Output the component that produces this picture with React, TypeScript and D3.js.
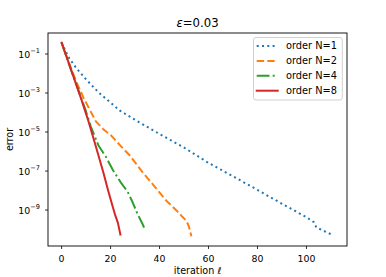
import React from 'react';
import * as d3 from 'd3';

// ---- data ----
const seriesLabels = ['order N=1', 'order N=2', 'order N=4', 'order N=8'];

const iterN1 = [0, 3, 6, 10, 15, 20, 24, 30, 40, 50, 60, 70, 80, 90, 100, 103, 104, 111];
const errN1 = [3.8e-1, 6.3e-2, 1.9e-2, 5.0e-3, 1.1e-3, 3.2e-4, 1.2e-4, 4.2e-5, 7.9e-6, 1.6e-6, 2.6e-7, 5.4e-8, 1.07e-8, 2.1e-9, 4.3e-10, 2.4e-10, 1.3e-10, 5.0e-11];

const iterN2 = [0, 3, 6, 9, 12, 14, 17, 20, 24, 28, 30, 33, 38, 43, 47, 49, 51, 52, 53];
const errN2 = [3.8e-1, 3.5e-2, 3.8e-3, 5.6e-4, 1.05e-4, 3.5e-5, 1.4e-5, 7.1e-6, 2.0e-6, 6.0e-7, 2.8e-7, 8.9e-8, 1.6e-8, 2.8e-9, 9.3e-10, 5.0e-10, 2.8e-10, 1.4e-10, 4.5e-11];

const iterN4 = [0, 4, 8, 10, 12, 15, 18, 21, 24, 27, 29, 31, 33, 34];
const errN4 = [3.8e-1, 1.35e-2, 5.6e-4, 1.1e-4, 1.8e-5, 2.1e-6, 5.6e-7, 1.1e-7, 2.8e-8, 8.5e-9, 2.5e-9, 6.3e-10, 2.0e-10, 1.0e-10];

const iterN8 = [0, 4, 8, 11, 14, 17, 19, 21, 22, 23, 24];
const errN8 = [3.8e-1, 1.4e-2, 5.0e-4, 3.5e-5, 1.8e-6, 8.9e-8, 1.0e-8, 1.3e-9, 5.0e-10, 2.2e-10, 5.6e-11];

const xTickValues = [0, 20, 40, 60, 80, 100];
const yTickExponents = [-1, -3, -5, -7, -9];

const titleMain = 'ε';
const titleRest = '=0.03';
const xLabelText = 'iteration ';
const xLabelSymbol = 'ℓ';
const yLabelText = 'error';

// ---- styling ----
const W = 386;
const H = 277;
const left = 48;
const right = 347;
const top = 33;
const bottom = 246;
const font = 'DejaVu Sans, sans-serif';
const colors = ['#1f77b4', '#ff7f0e', '#2ca02c', '#d62728'];
const dashes = ['2,3.3', '7.4,3.2', '12.8,3.2,2,3.2', 'none'];

export default function App() {
  const series = [
    { label: seriesLabels[0], it: iterN1, err: errN1 },
    { label: seriesLabels[1], it: iterN2, err: errN2 },
    { label: seriesLabels[2], it: iterN4, err: errN4 },
    { label: seriesLabels[3], it: iterN8, err: errN8 },
  ];
  const allIt = series.flatMap((s) => s.it);
  const allLog = series.flatMap((s) => s.err.map((e) => Math.log10(e)));
  const [xmin, xmax] = d3.extent(allIt) as [number, number];
  const xm = (xmax - xmin) * 0.05;
  const [lmin, lmax] = d3.extent(allLog) as [number, number];
  const lm = (lmax - lmin) * 0.05;

  const x = d3.scaleLinear().domain([xmin - xm, xmax + xm]).range([left, right]);
  const y = d3.scaleLog().domain([Math.pow(10, lmin - lm), Math.pow(10, lmax + lm)]).range([bottom, top]);

  const line = d3
    .line<[number, number]>()
    .x((d) => x(d[0]))
    .y((d) => y(d[1]));

  const legendX0 = 253.5;
  const legendY0 = 37.5;
  const rowH = 14.9;

  return (
    <svg
      width={W}
      height={H}
      viewBox={`0 0 ${W} ${H}`}
      style={{ position: 'fixed', left: 0, top: 0, background: '#fff' }}
      fontFamily={font}
    >
      <rect x={0} y={0} width={W} height={H} fill="#fff" />
      <defs>
        <clipPath id="plotclip">
          <rect x={left} y={top} width={right - left} height={bottom - top} />
        </clipPath>
      </defs>

      {/* title */}
      <text x={(left + right) / 2} y={27} textAnchor="middle" fontSize={11.7} fill="#000">
        <tspan fontStyle="italic">{titleMain}</tspan>
        <tspan>{titleRest}</tspan>
      </text>

      {/* lines */}
      <g clipPath="url(#plotclip)">
        {series.map((s, i) => (
          <path
            key={s.label}
            d={line(s.it.map((v, k) => [v, s.err[k]] as [number, number])) || ''}
            fill="none"
            stroke={colors[i]}
            strokeWidth={2}
            strokeDasharray={dashes[i]}
            strokeLinecap={i === 3 ? 'square' : 'butt'}
            strokeLinejoin="round"
          />
        ))}
      </g>

      {/* frame */}
      <rect x={left} y={top} width={right - left} height={bottom - top} fill="none" stroke="#000" strokeWidth={0.9} />

      {/* x ticks */}
      {xTickValues.map((t) => (
        <g key={'x' + t}>
          <line x1={x(t)} x2={x(t)} y1={bottom} y2={bottom + 3} stroke="#000" strokeWidth={0.8} />
          <text x={x(t)} y={261.5} textAnchor="middle" fontSize={9.4} fill="#000">
            {t}
          </text>
        </g>
      ))}

      {/* y ticks */}
      {yTickExponents.map((e) => {
        const yy = y(Math.pow(10, e));
        return (
          <g key={'y' + e}>
            <line x1={left - 3} x2={left} y1={yy} y2={yy} stroke="#000" strokeWidth={0.8} />
            <text x={40} y={yy + 4} textAnchor="end" fontSize={9.4} fill="#000">
              <tspan>10</tspan>
              <tspan dy={-5.2} fontSize={6.6}>
                {'\u2212' + Math.abs(e)}
              </tspan>
            </text>
          </g>
        );
      })}

      {/* axis labels */}
      <text x={(left + right) / 2} y={274} textAnchor="middle" fontSize={9.6} fill="#000">
        <tspan>{xLabelText}</tspan>
        <tspan fontStyle="italic">{xLabelSymbol}</tspan>
      </text>
      <text
        transform={`translate(12.5, ${(top + bottom) / 2}) rotate(-90)`}
        textAnchor="middle"
        fontSize={9.6}
        fill="#000"
      >
        {yLabelText}
      </text>

      {/* legend */}
      <rect
        x={legendX0}
        y={legendY0}
        width={342.3 - legendX0}
        height={100 - legendY0}
        rx={2.5}
        ry={2.5}
        fill="#fff"
        fillOpacity={0.8}
        stroke="#cccccc"
        strokeWidth={0.9}
      />
      {series.map((s, i) => {
        const ry = 46 + i * rowH;
        return (
          <g key={'leg' + s.label}>
            <line
              x1={256.7}
              x2={277.7}
              y1={ry}
              y2={ry}
              stroke={colors[i]}
              strokeWidth={2}
              strokeDasharray={dashes[i]}
              strokeLinecap={i === 3 ? 'square' : 'butt'}
            />
            <text x={286} y={ry + 3.4} fontSize={9.8} fill="#000">
              {s.label}
            </text>
          </g>
        );
      })}
    </svg>
  );
}
